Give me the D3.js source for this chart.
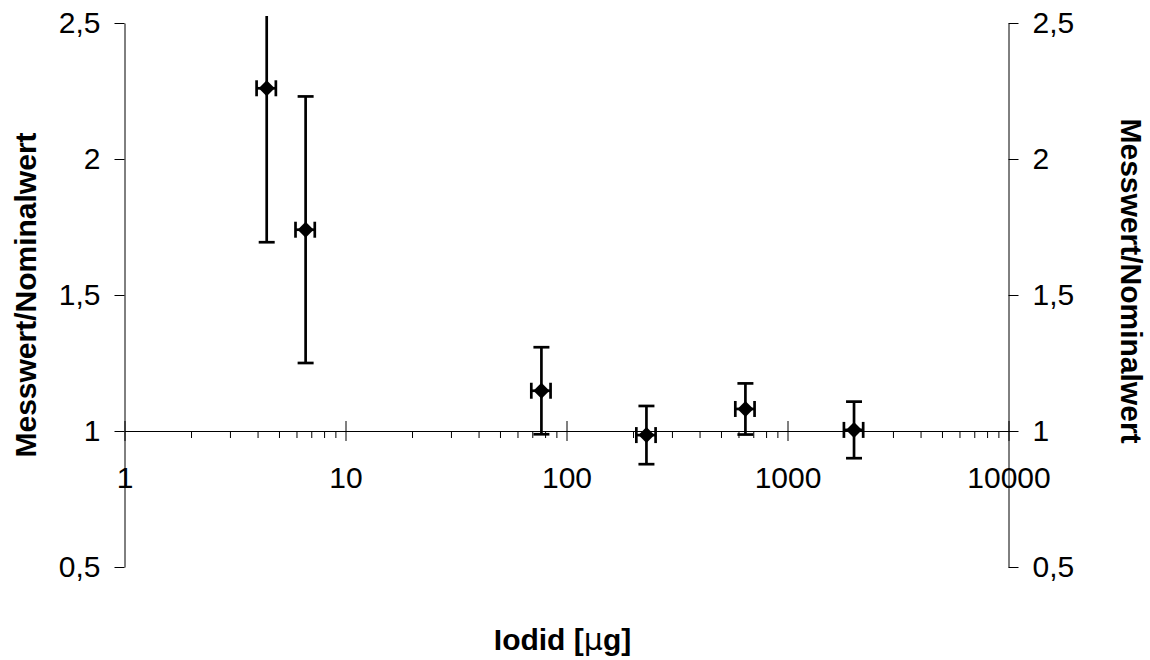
<!DOCTYPE html>
<html>
<head>
<meta charset="utf-8">
<script src="https://cdn.jsdelivr.net/npm/d3@7"></script>
<style>
  html, body { margin: 0; padding: 0; background: #fff; }
  svg { display: block; }
  text { font-family: "Liberation Sans", Arial, sans-serif; fill: #000; }
</style>
</head>
<body>
<div id="chart"></div>
<script>
// ---- data ----
const iodide      = [4.4, 6.6, 77, 230, 645, 2000];          // Iodid [µg]
const ratio       = [2.26, 1.74, 1.148, 0.985, 1.081, 1.004]; // Messwert/Nominalwert
const ratioErr    = [0.566, 0.49, 0.16, 0.107, 0.094, 0.104];
const iodideRelErr = [0.1, 0.1, 0.1, 0.1, 0.1, 0.1];
const yTickValues = [0.5, 1, 1.5, 2, 2.5];
const yTickLabels = ["0,5", "1", "1,5", "2", "2,5"];
const xTickValues = [1, 10, 100, 1000, 10000];
const xTickLabels = ["1", "10", "100", "1000", "10000"];
const yTitle = "Messwert/Nominalwert";

const W = 1150, H = 660;
const svg = d3.select("#chart").append("svg").attr("width", W).attr("height", H);

const x = d3.scaleLog().domain([1, 10000]).range([124.5, 1008.5]);
const y = d3.scaleLinear().domain([0.5, 2.5]).range([567, 23]);

svg.append("defs").append("clipPath").attr("id", "plotclip")
  .append("rect").attr("x", 100).attr("y", 16).attr("width", 950).attr("height", 570);

// ---- left y axis ----
const yl = svg.append("g").attr("transform", `translate(${x(1)},0)`)
  .call(d3.axisLeft(y).tickValues(yTickValues)
        .tickFormat((d, i) => yTickLabels[i]).tickSize(10).tickSizeOuter(0).tickPadding(14));
// ---- right y axis ----
const yr = svg.append("g").attr("transform", `translate(${x(10000)},0)`)
  .call(d3.axisRight(y).tickValues(yTickValues)
        .tickFormat((d, i) => yTickLabels[i]).tickSize(10).tickSizeOuter(0).tickPadding(14));
[yl, yr].forEach(g => {
  g.selectAll("path.domain").attr("stroke", "#000").attr("stroke-width", 1);
  g.selectAll(".tick line").attr("stroke", "#000").attr("stroke-width", 1);
  g.selectAll(".tick text").attr("font-size", 30)
    .attr("font-family", "Liberation Sans, Arial, sans-serif").attr("fill", "#000");
});

// ---- x axis (crosses at y = 1) ----
const minorVals = [];
for (let e = 0; e < 4; e++) for (let m = 2; m <= 9; m++) minorVals.push(m * Math.pow(10, e));
const xMinor = svg.append("g").attr("transform", `translate(0,${y(1)})`)
  .call(d3.axisBottom(x).tickValues(minorVals).tickFormat("").tickSize(7).tickSizeOuter(0));
const xMajor = svg.append("g").attr("transform", `translate(0,${y(1)})`)
  .call(d3.axisBottom(x).tickValues(xTickValues).tickFormat((d, i) => xTickLabels[i])
        .tickSize(10).tickSizeOuter(0).tickPadding(26));
xMajor.selectAll(".tick line").attr("y1", -10);
[xMinor, xMajor].forEach(g => {
  g.selectAll("path.domain").attr("stroke", "#000").attr("stroke-width", 1);
  g.selectAll(".tick line").attr("stroke", "#000").attr("stroke-width", 1);
});
xMajor.selectAll(".tick text").attr("font-size", 30)
  .attr("font-family", "Liberation Sans, Arial, sans-serif").attr("fill", "#000");

// ---- error bars & markers ----
const data = iodide.map((v, i) => ({ x: v, y: ratio[i], ey: ratioErr[i], ex: iodideRelErr[i] }));
const plot = svg.append("g").attr("clip-path", "url(#plotclip)");
const cap = 8;
const eb = plot.selectAll("g.pt").data(data).join("g").attr("class", "pt")
  .attr("stroke", "#000").attr("stroke-width", 2.7).attr("fill", "none");
eb.append("line")
  .attr("x1", d => x(d.x)).attr("x2", d => x(d.x))
  .attr("y1", d => y(d.y - d.ey)).attr("y2", d => y(d.y + d.ey));
eb.append("line")
  .attr("x1", d => x(d.x) - cap).attr("x2", d => x(d.x) + cap)
  .attr("y1", d => y(d.y - d.ey)).attr("y2", d => y(d.y - d.ey));
eb.append("line")
  .attr("x1", d => x(d.x) - cap).attr("x2", d => x(d.x) + cap)
  .attr("y1", d => y(d.y + d.ey)).attr("y2", d => y(d.y + d.ey));
eb.append("line")
  .attr("x1", d => x(d.x * (1 - d.ex))).attr("x2", d => x(d.x * (1 + d.ex)))
  .attr("y1", d => y(d.y)).attr("y2", d => y(d.y));
eb.append("line")
  .attr("x1", d => x(d.x * (1 - d.ex))).attr("x2", d => x(d.x * (1 - d.ex)))
  .attr("y1", d => y(d.y) - cap).attr("y2", d => y(d.y) + cap);
eb.append("line")
  .attr("x1", d => x(d.x * (1 + d.ex))).attr("x2", d => x(d.x * (1 + d.ex)))
  .attr("y1", d => y(d.y) - cap).attr("y2", d => y(d.y) + cap);
// diamonds
const r = 8;
plot.selectAll("path.mk").data(data).join("path").attr("class", "mk")
  .attr("d", `M0,${-r}L${r},0L0,${r}L${-r},0Z`)
  .attr("transform", d => `translate(${x(d.x)},${y(d.y)})`)
  .attr("fill", "#000");

// ---- titles ----
svg.append("text")
  .attr("transform", `translate(25,${y(1.5)}) rotate(-90)`)
  .attr("text-anchor", "middle").attr("dominant-baseline", "central")
  .attr("font-size", 30).attr("font-weight", "bold").text(yTitle);
svg.append("text")
  .attr("transform", `translate(1131,281) rotate(90)`)
  .attr("text-anchor", "middle").attr("dominant-baseline", "central")
  .attr("font-size", 30).attr("font-weight", "bold").text(yTitle);
const xt = svg.append("text")
  .attr("x", (x(1) + x(10000)) / 2 - 4).attr("y", 650)
  .attr("text-anchor", "middle").attr("font-size", 30).attr("font-weight", "bold");
xt.append("tspan").text("Iodid [");
xt.append("tspan").attr("font-weight", "normal").attr("font-family", "DejaVu Sans, sans-serif").text("µ");
xt.append("tspan").text("g]");
</script>
</body>
</html>
